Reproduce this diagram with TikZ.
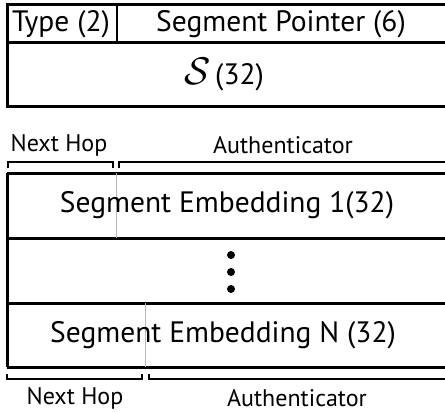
\documentclass[tikz,border=0pt]{standalone}
\usepackage{fontspec}
\setmainfont{PT Sans}
\begin{document}
\begin{tikzpicture}
[x=1pt, y=-1pt, font=\fontsize{29.5}{33}\selectfont,
every node/.style={inner sep=0pt, anchor=center},
frame/.style={line width=3pt},
divider/.style={line width=1.2pt},
split/.style={line width=0.8pt, gray!55},
brace/.style={line width=1.3pt},
tag/.style={font=\fontsize{24}{28}\selectfont}
]
\clip (0,0) rectangle (445,412);

% header fields
\path
(7,5) coordinate (h1)
(117,5) coordinate (h2)
(7,43) coordinate (h3)
(117,43) coordinate (h4)
(450,43) coordinate (h5)
(450,107) coordinate (h6)
;
\draw[frame] (h1) rectangle (h6);
\draw[frame] (h3) -- (h5);
\draw[divider] (h2) -- (h4);

\node (type) at (61,24) {Type (2)};
\node (pointer) at (281,24) {Segment Pointer (6)};
\node (seg) at (224,75) {\scalebox{1.55}{$\mathcal{S}$}\,(32)};

% embedding rows
\path
(7,173) coordinate (r1)
(7,238) coordinate (r2)
(7,303) coordinate (r3)
(7,367) coordinate (r4)
;
\foreach \r in {1,...,4}
{\draw[frame] (r\r) -- ++(445,0);}
\draw[frame] (r1) -- (r4);

\draw[split] (116,173) -- (116,238);
\draw[split] (145,303) -- (145,367);

\node (emb1) at (227,205) {Segment Embedding 1(32)};
\node (embN) at (223,335) {Segment Embedding N (32)};
\foreach \y in {255,272,289}
{\fill (231,\y) circle (4);}

% brackets
\draw[brace] (8,168) |- (113,162) -- (113,168);
\draw[brace] (119,168) |- (450,162);
\draw[brace] (7,374) |- (142,379) -- (142,374);
\draw[brace] (149,374) |- (450,379);

\node[tag] (hop1) at (59,145) {Next Hop};
\node[tag] (auth1) at (283,145) {Authenticator};
\node[tag] (hop2) at (75,398) {Next Hop};
\node[tag] (auth2) at (297,398) {Authenticator};

\end{tikzpicture}
\end{document}
